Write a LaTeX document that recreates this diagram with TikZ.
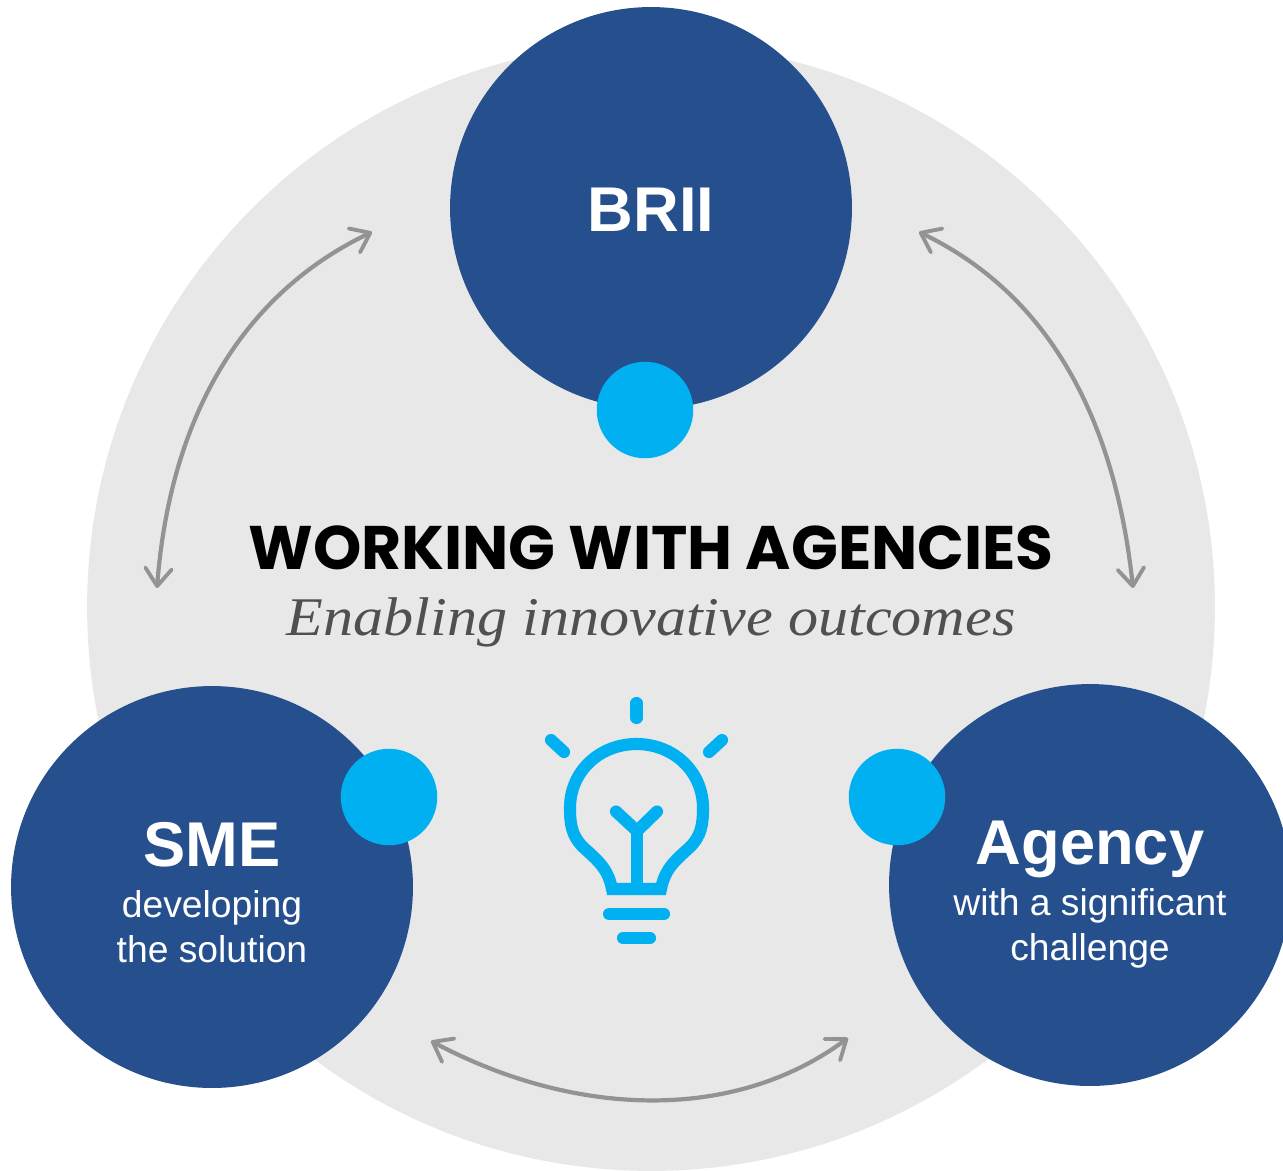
\documentclass[tikz,border=0pt]{standalone}
\usepackage{fontspec}
\setmainfont{Liberation Sans}
\newfontfamily\titlefont{Poppins}
\newfontfamily\subfont[FakeStretch=1.105]{Liberation Serif}
\usetikzlibrary{arrows.meta}
\definecolor{navy}{HTML}{264F8E}
\definecolor{cyanb}{HTML}{00B0F0}
\definecolor{bggrey}{HTML}{E8E8E8}
\definecolor{arrowgrey}{HTML}{939393}
\definecolor{subgrey}{HTML}{505050}
\tikzset{
  bigcirc/.style={circle,fill=navy,draw=none,minimum size=8.04cm,inner sep=0pt},
  dotcirc/.style={circle,fill=cyanb,draw=none,minimum size=1.93cm,inner sep=0pt},
  bgcirc/.style={circle,fill=bggrey,draw=none,minimum size=22.56cm,inner sep=0pt},
  head/.style={font=\bfseries\fontsize{36pt}{40pt}\selectfont,text=white,inner sep=0pt,anchor=base},
  bodytext/.style={font=\fontsize{21.2pt}{25pt}\selectfont,text=white,inner sep=0pt,anchor=base},
  swap/.style={draw=arrowgrey,line width=2.4pt,{Straight Barb[length=10pt,width=15pt,line width=2.2pt,round]}-{Straight Barb[length=10pt,width=15pt,line width=2.2pt,round]}},
  bulb/.style={draw=cyanb,line width=6.9pt,line cap=round,line join=round},
  bulbflat/.style={draw=cyanb,line width=6.9pt,line cap=butt,line join=miter}
}
\begin{document}
\begin{tikzpicture}[x=0.02cm,y=-0.02cm]
\useasboundingbox (0,0) rectangle (1283,1170);
\clip (0,0) rectangle (1283,1170);
\node[bgcirc] (bg) at (651,607) {};
\node[bigcirc] (brii) at (651,208) {};
\node[bigcirc] (sme) at (212,887) {};
\node[bigcirc] (agency) at (1090,885) {};
\node[dotcirc] (d1) at (645,410) {};
\node[dotcirc] (d2) at (389,797) {};
\node[dotcirc] (d3) at (897,797) {};
\node[head] (t1) at (651,231) {BRII};
\node[head] (t2) at (212,866) {SME};
\node[bodytext] (t2a) at (212,917) {developing};
\node[bodytext] (t2b) at (212,962) {the solution};
\node[head] (t3) at (1090,864) {Agency};
\node[bodytext] (t3a) at (1090,915) {with a significant};
\node[bodytext] (t3b) at (1090,960) {challenge};
\node[font=\titlefont\bfseries\fontsize{35pt}{40pt}\selectfont,inner sep=0pt,anchor=base,text=black] (title) at (651,569) {WORKING WITH AGENCIES};
\node[font=\subfont\itshape\fontsize{31pt}{36pt}\selectfont,inner sep=0pt,anchor=base,text=subgrey] (subtitle) at (651,635) {Enabling innovative outcomes};
\coordinate (a1) at (157,588);
\coordinate (a2) at (372,232);
\coordinate (b1) at (919,232);
\coordinate (b2) at (1133,588);
\coordinate (c1) at (431,1041);
\coordinate (c2) at (848,1038);
\draw[swap] (a1) .. controls (170,420) and (240,295) .. (a2);
\draw[swap] (b1) .. controls (1050,295) and (1115,420) .. (b2);
\draw[swap] (c1) .. controls (570,1115) and (730,1125) .. (c2);
% bulb
\draw[bulbflat] (612,889) .. controls (608,868) and (597,860) .. (583,847)
  .. controls (572,836) and (570,825) .. (570,808)
  .. controls (570,771) and (600,744) .. (636.5,744)
  .. controls (673,744) and (703,771) .. (703,808)
  .. controls (703,825) and (701,836) .. (690,847)
  .. controls (676,860) and (665,868) .. (661,889) -- cycle;
\draw[bulbflat] (637,889) -- (637,830);
\draw[bulb] (616,811.5) -- (637,831) -- (657,811.5);
\draw[bulb] (636.5,703) -- (636.5,718);
\draw[bulb] (551,740) -- (564,752);
\draw[bulb] (722,740) -- (709,752);
\draw[bulb] (609,914) -- (664,914);
\draw[bulb] (623,938) -- (650,938);
\end{tikzpicture}
\end{document}
